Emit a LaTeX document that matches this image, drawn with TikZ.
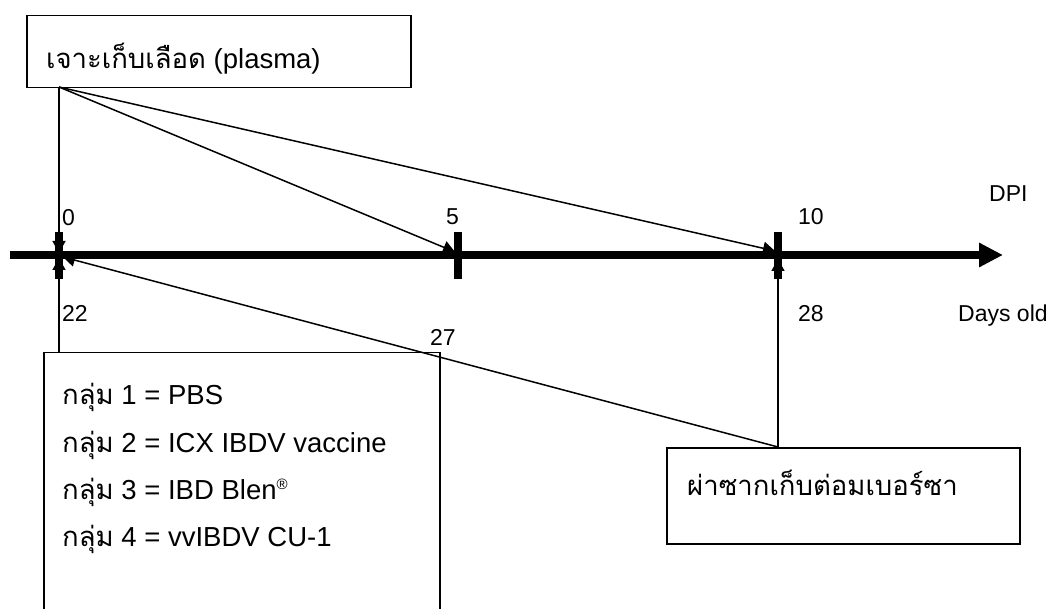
\documentclass[tikz,border=0pt]{standalone}
\usepackage{fontspec}
\setmainfont{Liberation Sans}
\newfontfamily\thaifont[Script=Thai]{Loma}
\usetikzlibrary{arrows.meta}
\tikzset{
  box/.style={draw, line width=1.5pt, anchor=north west, inner sep=0pt},
  conn/.style={line width=1.5pt, -{Triangle[length=12pt,width=13pt]}},
  axisline/.style={line width=7.5pt},
  tick/.style={line width=8pt},
  lbl/.style={anchor=base west, inner sep=0pt, font=\fontsize{23}{27}\selectfont},
  boxtxt/.style={anchor=base west, inner sep=0pt, font=\fontsize{27.5}{32}\selectfont},
}
\begin{document}
\begin{tikzpicture}[x=1pt,y=-1pt]
\clip (0,0) rectangle (1055,609);
\fill[white] (0,0) rectangle (1055,609);

% boxes
\node[box, minimum width=384pt, minimum height=72pt] (blood) at (26,15) {};
\node[boxtxt] (bloodtxt) at (46,69) {{\thaifont เจาะเก็บเลือด} (plasma)};

\node[box, minimum width=396pt, minimum height=300pt] (groups) at (43,352) {};
\node[boxtxt] (g1) at (62,405) {{\thaifont กลุ่ม} 1 = PBS};
\node[boxtxt] (g2) at (62,452) {{\thaifont กลุ่ม} 2 = ICX IBDV vaccine};
\node[boxtxt] (g3) at (62,499) {{\thaifont กลุ่ม} 3 = IBD Blen\textsuperscript{\fontsize{15}{15}\selectfont ®}};
\node[boxtxt] (g4) at (62,546) {{\thaifont กลุ่ม} 4 = vvIBDV CU-1};

\node[box, minimum width=353pt, minimum height=96pt] (bursa) at (666,447) {};
\node[boxtxt] (bursatxt) at (687,495) {\thaifont ผ่าซากเก็บต่อมเบอร์ซา};

% axis
\coordinate (axstart) at (10,255);
\coordinate (axend) at (1003,255);
\draw[axisline, -{Triangle[length=24pt,width=23pt]}] (axstart) -- (axend);
\coordinate (t0) at (59,255);
\coordinate (t5) at (458,255);
\coordinate (t10) at (778,255);
\draw[tick] (59,232) -- (59,279);
\draw[tick] (458,232) -- (458,279);
\draw[tick] (778,232) -- (778,279);

% connectors
\coordinate (bs) at (59,87);
\coordinate (bt) at (778,447);
\coordinate (gt) at (59,352);
\draw[conn] (bs) -- (59,253);
\draw[conn] (bs) -- (455,252);
\draw[conn] (bs) -- (775,251);
\draw[conn] (gt) -- (59,258);
\draw[conn] (bt) -- (778,259);
\draw[conn] (bt) -- (63,257);

% labels
\node[lbl] (l0) at (62,226) {0};
\node[lbl] (l5) at (446,225) {5};
\node[lbl] (l10) at (798,225) {10};
\node[lbl] (ldpi) at (989,202) {DPI};
\node[lbl] (l22) at (62,322) {22};
\node[lbl] (l27) at (430,346) {27};
\node[lbl] (l28) at (798,322) {28};
\node[lbl] (ldays) at (958,322) {Days old};
\end{tikzpicture}
\end{document}
